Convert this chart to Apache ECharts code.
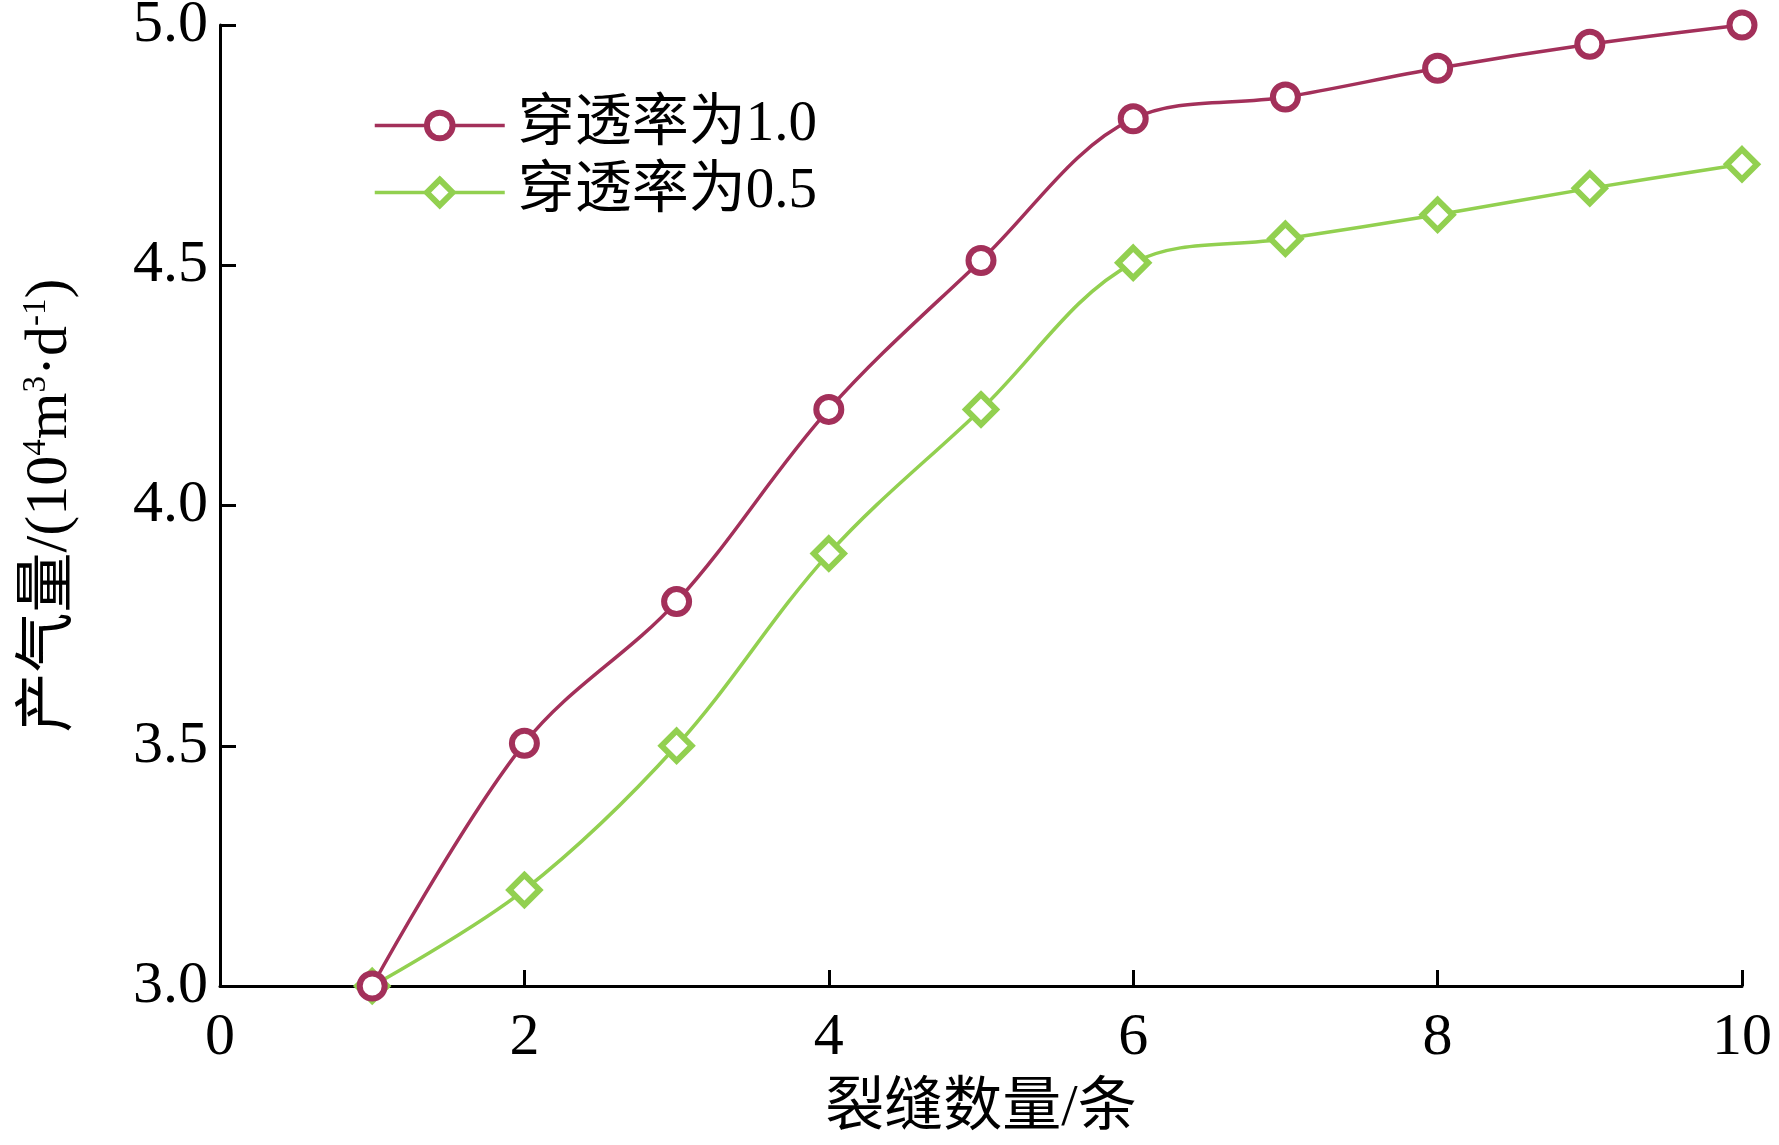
<!DOCTYPE html>
<html>
<head>
<meta charset="utf-8">
<script src="https://cdn.jsdelivr.net/npm/echarts@6/dist/echarts.min.js"></script>
<style>html,body{margin:0;padding:0;background:#fff;}#c{width:1779px;height:1145px;}</style>
</head>
<body>
<div id="c"></div>
<script>
const fractureCounts = [1, 2, 3, 4, 5, 6, 7, 8, 9, 10];
const perm10 = [3.0, 3.505, 3.80, 4.20, 4.51, 4.805, 4.85, 4.91, 4.96, 5.0];
const perm05 = [3.0, 3.20, 3.50, 3.90, 4.20, 4.505, 4.555, 4.605, 4.66, 4.71];
const seriesNames = ['穿透率为1.0', '穿透率为0.5'];
const xTitle = '裂缝数量/条';

const FONT = "'Liberation Serif', 'Noto Sans CJK SC', serif";
const chart = echarts.init(document.getElementById('c'), null, {renderer: 'canvas'});
const toPairs = arr => fractureCounts.map((x, i) => [x, arr[i]]);

chart.setOption({
  animation: false,
  backgroundColor: '#fff',
  grid: {left: 220, right: 37, top: 25, bottom: 159, outerBoundsMode: 'none', containLabel: false},
  legend: {
    left: 368, top: 92, orient: 'vertical',
    itemWidth: 130, itemHeight: 32, itemGap: 10,
    itemStyle: {borderWidth: 6},
    lineStyle: {width: 3.5},
    textStyle: {fontFamily: FONT, fontSize: 57, color: '#000', padding: [0, 0, 0, 8]},
    data: seriesNames
  },
  xAxis: {
    type: 'value', min: 0, max: 10, interval: 2,
    name: xTitle, nameLocation: 'middle', nameGap: 94,
    nameTextStyle: {fontFamily: FONT, fontSize: 59, color: '#000'},
    axisLine: {lineStyle: {color: '#000', width: 3}},
    axisTick: {inside: true, length: 16, lineStyle: {color: '#000', width: 3}},
    axisLabel: {fontFamily: FONT, fontSize: 60, color: '#000', margin: 22},
    splitLine: {show: false}
  },
  yAxis: {
    type: 'value', min: 3.0, max: 5.0, interval: 0.5,
    name: '产气量/(10{sup|4}m{sup|3}·d{sup|-1})',
    nameLocation: 'middle', nameGap: 140,
    nameTextStyle: {
      fontFamily: FONT, fontSize: 60, color: '#000',
      rich: {sup: {fontFamily: FONT, fontSize: 33, color: '#000', verticalAlign: 'top', padding: [0, 0, 27, 0]}}
    },
    axisLine: {lineStyle: {color: '#000', width: 3}},
    axisTick: {inside: true, length: 16, lineStyle: {color: '#000', width: 3}},
    axisLabel: {fontFamily: FONT, fontSize: 60, color: '#000', margin: 12, formatter: v => v.toFixed(1)},
    splitLine: {show: false}
  },
  series: [
    {
      name: seriesNames[0], type: 'line', smooth: 0.35,
      data: toPairs(perm10),
      symbol: 'circle', symbolSize: 25,
      lineStyle: {color: '#a3305a', width: 3.5},
      itemStyle: {color: '#fff', borderColor: '#a3305a', borderWidth: 6},
      z: 3
    },
    {
      name: seriesNames[1], type: 'line', smooth: 0.35,
      data: toPairs(perm05),
      symbol: 'diamond', symbolSize: 30,
      lineStyle: {color: '#92d050', width: 3.5},
      itemStyle: {color: '#fff', borderColor: '#92d050', borderWidth: 6},
      z: 2
    }
  ]
});
</script>
</body>
</html>
